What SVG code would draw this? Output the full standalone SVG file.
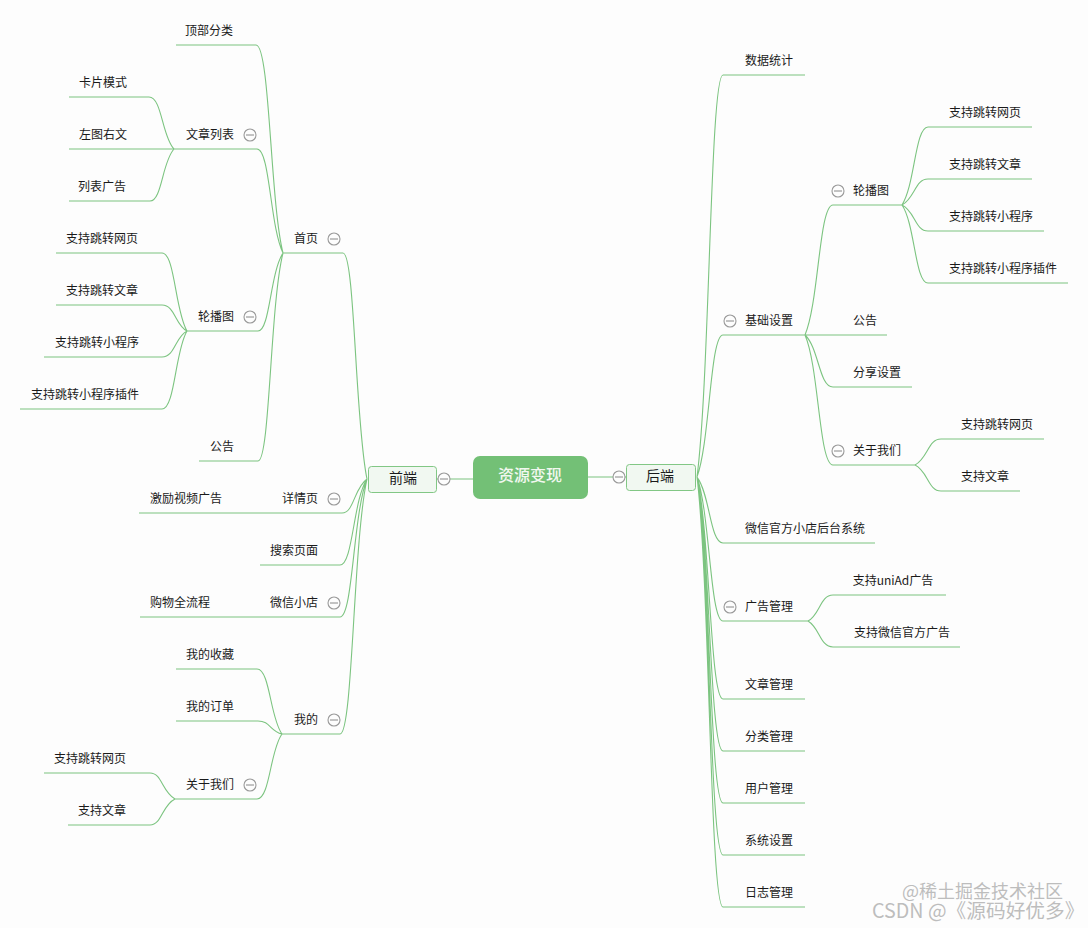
<svg xmlns="http://www.w3.org/2000/svg" width="1088" height="928" viewBox="0 0 1088 928">
<style>
text{font-family:"Noto Sans CJK SC","Noto Sans",sans-serif;font-size:12px;fill:#1a1a1a;text-anchor:middle;dominant-baseline:central;transform:translateY(-1.5px)}
.c,.u{fill:none;stroke:#7cc480;stroke-width:1.1}
.b{fill:#f1f8f1;stroke:#82c785;stroke-width:1}
.i circle{fill:#fdfdfd;stroke:#999;stroke-width:1.1}
.i path{stroke:#888;stroke-width:1;fill:none}
.h{font-size:14px}
.w{fill:#bdbdbd;font-size:18px;text-anchor:start}
.w2{font-size:19.700px}
</style>
<defs><g id="m" class="i"><circle r="6"/><path d="M-4 0H4"/></g></defs>
<rect width="1088" height="928" fill="#fdfdfd"/>
<g id="connectors">
<path class="c" d="M437 479H473M588 477H626"/>
<!-- left level 1 -->
<path class="c" d="M367 479C355 422 355 253 343 253M367 479C354 488 354 513 342 513M367 479C353 500 353 565 340 565M367 479C353 514 353 617 340 617M367 479C353 543 353 734 340 734"/>
<!-- 首页 -->
<path class="c" d="M283 253C270 201 270 45 256 45M283 253C270 227 270 149 257 149M283 253C270 273 270 331 258 331M283 253C270 305 270 461 258 461"/>
<!-- 文章列表 -->
<path class="c" d="M174 149C162 137 162 97 149 97M174 149C162 162 162 201 150 201"/>
<!-- 轮播图 left -->
<path class="c" d="M187 331C175 311 175 253 162 253M187 331C175 325 175 305 162 305M187 331C175 337 175 357 162 357M187 331C175 351 175 409 162 409"/>
<!-- 我的 -->
<path class="c" d="M282 734C270 718 270 669 257 669M282 734C270 731 270 721 258 721M282 734C270 750 270 799 257 799"/>
<!-- 关于我们 left -->
<path class="c" d="M175 799C162 792 162 773 150 773M175 799C162 805 162 825 150 825"/>
<!-- right level 1 -->
<path class="c" d="M697 477C710 377 710 75 723 75M697 477C710 442 710 335 723 335M697 477C710 494 710 543 723 543M697 477C710 513 710 621 723 621M697 477C710 532 710 699 723 699M697 477C710 546 710 751 723 751M697 477C710 558 710 803 723 803M697 477C710 571 710 855 723 855M697 477C710 585 710 907 723 907"/>
<!-- 基础设置 -->
<path class="c" d="M805 335C819 302 819 205 833 205M805 335H833M805 335C819 348 819 387 833 387M805 335C819 367 819 465 833 465"/>
<!-- 轮播图 right -->
<path class="c" d="M902 205C915 185 915 127 928 127M902 205C915 198 915 179 928 179M902 205C915 211 915 231 928 231M902 205C915 224 915 283 928 283"/>
<!-- 关于我们 right -->
<path class="c" d="M915 465C928 458 928 439 941 439M915 465C928 471 928 491 941 491"/>
<!-- 广告管理 -->
<path class="c" d="M808 621C820 615 820 595 833 595M808 621C820 628 820 647 833 647"/>
</g>
<g id="root"><rect x="473" y="456" width="115" height="43" rx="7" fill="#73c076"/><text x="530" y="475" style="font-size:16px;fill:#f2f8f0;font-weight:500">资源变现</text></g>
<g id="qianduan"><rect class="b" x="368.500" y="466.500" width="68" height="26" rx="3"/><text class="h" x="403" y="478">前端</text><use href="#m" x="444" y="479"/></g>
<g id="houduan"><rect class="b" x="626.500" y="464.500" width="69" height="26" rx="3"/><text class="h" x="660" y="476">后端</text><use href="#m" x="619" y="477"/></g>

<g id="l-shouye"><path class="u" d="M283 253H343"/><text x="306" y="239">首页</text><use href="#m" x="334" y="239"/></g>
<g id="l-dingbu"><path class="u" d="M176 45H256"/><text x="209" y="31">顶部分类</text></g>
<g id="l-wenzhang"><path class="u" d="M174 149H257"/><text x="210" y="135">文章列表</text><use href="#m" x="250" y="135"/></g>
<g id="l-kapian"><path class="u" d="M69 97H149"/><text x="103" y="83">卡片模式</text></g>
<g id="l-zuotu"><path class="u" d="M69 149H174"/><text x="103" y="135">左图右文</text></g>
<g id="l-liebiao"><path class="u" d="M69 201H150"/><text x="102" y="187">列表广告</text></g>
<g id="l-lunbo"><path class="u" d="M187 331H258"/><text x="216" y="317">轮播图</text><use href="#m" x="250" y="317"/></g>
<g id="l-lb1"><path class="u" d="M56 253H162"/><text x="102" y="239">支持跳转网页</text></g>
<g id="l-lb2"><path class="u" d="M56 305H162"/><text x="102" y="291">支持跳转文章</text></g>
<g id="l-lb3"><path class="u" d="M44 357H162"/><text x="97" y="343">支持跳转小程序</text></g>
<g id="l-lb4"><path class="u" d="M20 409H162"/><text x="85" y="395">支持跳转小程序插件</text></g>
<g id="l-gonggao"><path class="u" d="M199 461H258"/><text x="222" y="447">公告</text></g>
<g id="l-xiangqing"><path class="u" d="M275 513H342"/><text x="300" y="499">详情页</text><use href="#m" x="334" y="499"/></g>
<g id="l-jili"><path class="u" d="M139 513H275"/><text x="186" y="499">激励视频广告</text></g>
<g id="l-sousuo"><path class="u" d="M260 565H340"/><text x="294" y="551">搜索页面</text></g>
<g id="l-xiaodian"><path class="u" d="M260 617H340"/><text x="294" y="603">微信小店</text><use href="#m" x="334" y="603"/></g>
<g id="l-gouwu"><path class="u" d="M140 617H260"/><text x="180" y="603">购物全流程</text></g>
<g id="l-wode"><path class="u" d="M282 734H340"/><text x="306" y="720">我的</text><use href="#m" x="334" y="720"/></g>
<g id="l-shoucang"><path class="u" d="M176 669H257"/><text x="210" y="655">我的收藏</text></g>
<g id="l-dingdan"><path class="u" d="M176 721H258"/><text x="210" y="707">我的订单</text></g>
<g id="l-guanyu"><path class="u" d="M175 799H257"/><text x="210" y="785">关于我们</text><use href="#m" x="250" y="785"/></g>
<g id="l-gy1"><path class="u" d="M44 773H150"/><text x="90" y="759">支持跳转网页</text></g>
<g id="l-gy2"><path class="u" d="M68 825H150"/><text x="102" y="811">支持文章</text></g>

<g id="r-shuju"><path class="u" d="M723 75H805"/><text x="769" y="61">数据统计</text></g>
<g id="r-jichu"><path class="u" d="M723 335H805"/><text x="769" y="321">基础设置</text><use href="#m" x="730" y="321"/></g>
<g id="r-lunbo"><path class="u" d="M833 205H902"/><text x="871" y="191">轮播图</text><use href="#m" x="838" y="191"/></g>
<g id="r-lb1"><path class="u" d="M928 127H1032"/><text x="985" y="113">支持跳转网页</text></g>
<g id="r-lb2"><path class="u" d="M928 179H1032"/><text x="985" y="165">支持跳转文章</text></g>
<g id="r-lb3"><path class="u" d="M928 231H1044"/><text x="991" y="217">支持跳转小程序</text></g>
<g id="r-lb4"><path class="u" d="M928 283H1068"/><text x="1003" y="269">支持跳转小程序插件</text></g>
<g id="r-gonggao"><path class="u" d="M833 335H887"/><text x="865" y="321">公告</text></g>
<g id="r-fenxiang"><path class="u" d="M833 387H912"/><text x="877" y="373">分享设置</text></g>
<g id="r-guanyu"><path class="u" d="M833 465H915"/><text x="877" y="451">关于我们</text><use href="#m" x="838" y="451"/></g>
<g id="r-gy1"><path class="u" d="M941 439H1044"/><text x="997" y="425">支持跳转网页</text></g>
<g id="r-gy2"><path class="u" d="M941 491H1020"/><text x="985" y="477">支持文章</text></g>
<g id="r-weixin"><path class="u" d="M723 543H875"/><text x="805" y="529">微信官方小店后台系统</text></g>
<g id="r-guanggao"><path class="u" d="M723 621H808"/><text x="769" y="607">广告管理</text><use href="#m" x="730" y="607"/></g>
<g id="r-gg1"><path class="u" d="M833 595H946"/><text x="893" y="581">支持uniAd广告</text></g>
<g id="r-gg2"><path class="u" d="M833 647H960"/><text x="902" y="633">支持微信官方广告</text></g>
<g id="r-wz"><path class="u" d="M723 699H805"/><text x="769" y="685">文章管理</text></g>
<g id="r-fl"><path class="u" d="M723 751H805"/><text x="769" y="737">分类管理</text></g>
<g id="r-yh"><path class="u" d="M723 803H805"/><text x="769" y="789">用户管理</text></g>
<g id="r-xt"><path class="u" d="M723 855H805"/><text x="769" y="841">系统设置</text></g>
<g id="r-rz"><path class="u" d="M723 907H805"/><text x="769" y="893">日志管理</text></g>

<text class="w" x="902" y="891">@稀土掘金技术社区</text>
<text class="w w2" x="872" y="911">CSDN @《源码好优多》</text>
</svg>
